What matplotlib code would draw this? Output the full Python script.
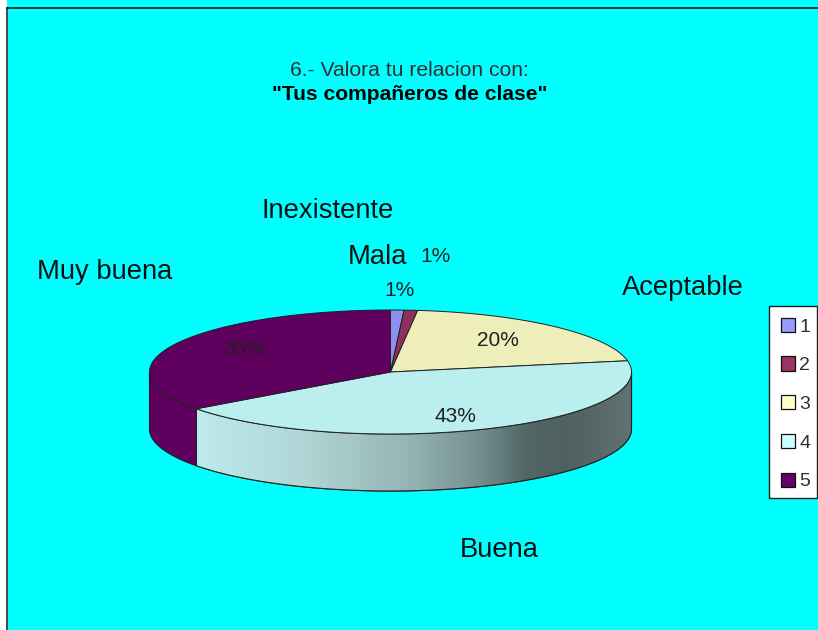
import numpy as np
import matplotlib
matplotlib.use('Agg')
import matplotlib.pyplot as plt
from matplotlib.patches import Polygon, Rectangle, Patch
from matplotlib.colors import LinearSegmentedColormap

# Datos del grafico
categorias = ['1', '2', '3', '4', '5']
valores = [0.9, 0.9, 20.3, 42.8, 35.1]
porcentajes = ['1%', '1%', '20%', '43%', '35%']
nombres = ['Inexistente', 'Mala', 'Aceptable', 'Buena', 'Muy buena']
colores_tapa = ['#8f8fee', '#8e2f5f', '#eeeebb', '#bbeeee', '#5f005f']
colores_leyenda = ['#9999ff', '#993366', '#ffffcc', '#ccffff', '#660066']

plt.rcParams['font.family'] = ['Liberation Sans', 'DejaVu Sans']

# Geometria de la torta en pixeles
cx, cy = 390.5, 372
rx, ry = 241, 62
alto = 57


def borde(t):
    t = np.radians(t)
    return cx + rx * np.sin(t), cy - ry * np.cos(t)


fig = plt.figure(figsize=(8.18, 6.30), dpi=100, facecolor='white')
ax = fig.add_axes([0, 0, 1, 1])
ax.set_xlim(0, 818)
ax.set_ylim(630, 0)
ax.axis('off')

# Fondo
ax.add_patch(Rectangle((7, 0), 811, 630, facecolor='#00ffff', edgecolor='none', zorder=0))
ax.plot([7, 7], [8, 630], color='#3c4c4c', lw=1.4, zorder=1)
ax.plot([7, 818], [7.5, 7.5], color='#101818', lw=1.2, zorder=1)

# Angulos acumulados, en grados desde arriba y en sentido horario
limites = np.cumsum([0] + valores) * 360 / sum(valores)

# Cara lateral: solo se ve la mitad de adelante (90 a 270 grados)
for i in range(len(valores)):
    a = max(limites[i], 90)
    b = min(limites[i + 1], 270)
    if a >= b:
        continue
    t = np.linspace(a, b, 120)
    x, y = borde(t)
    pts = np.vstack([np.c_[x, y], np.c_[x[::-1], y[::-1] + alto]])
    cara = Polygon(pts, closed=True, facecolor=colores_tapa[i], edgecolor='#202020', lw=0.8, zorder=2)
    ax.add_patch(cara)
    if categorias[i] == '4':
        # degradado del lado de la porcion 4
        cmap = LinearSegmentedColormap.from_list('lado', [
            (0.0, '#bdeaea'), (0.25, '#b0d6d6'), (0.5, '#94b2b2'), (0.65, '#748f8f'),
            (0.76, '#526666'), (0.85, '#4f6060'), (1.0, '#607272')])
        img = ax.imshow(np.linspace(0, 1, 256).reshape(1, -1), cmap=cmap, aspect='auto',
                        extent=[x.min(), x.max(), cy + ry + alto + 2, cy - 5], zorder=2.1)
        img.set_clip_path(cara)
        ax.add_patch(Polygon(pts, closed=True, facecolor='none', edgecolor='#202020', lw=0.8, zorder=2.2))
ax.set_xlim(0, 818)
ax.set_ylim(630, 0)

# Tapa
for i in range(len(valores)):
    t = np.linspace(limites[i], limites[i + 1], 120)
    x, y = borde(t)
    pts = np.vstack([[cx, cy], np.c_[x, y]])
    ax.add_patch(Polygon(pts, closed=True, facecolor=colores_tapa[i], edgecolor='#202020', lw=0.7, zorder=3))

# Titulo
ax.text(409, 70, '6.- Valora tu relacion con:', ha='center', va='center', fontsize=15.2, color='#303030', zorder=5)
ax.text(410, 94, '"Tus compañeros de clase"', ha='center', va='center', fontsize=15.1, fontweight='bold', color='black', zorder=5)

# Porcentajes
pos_pct = [(399, 291), (435, 257), (498, 340), (455, 416), (244, 349)]
for (px, py), s in zip(pos_pct, porcentajes):
    ax.text(px, py, s, ha='center', va='center', fontsize=15, color='#202020', zorder=5)

# Nombres de las porciones
pos_nom = [(328, 211), (377, 257), (683, 288), (499, 550), (105, 272)]
for (px, py), s in zip(pos_nom, nombres):
    ax.text(px, py, s, ha='center', va='center', fontsize=19.7, color='#101010', zorder=5)

# Leyenda: el marco va aparte para fijar su alto
ax.add_patch(Rectangle((769, 306), 47.5, 192, facecolor='white', edgecolor='#202020', lw=1.0, zorder=5.5))
manijas = [Patch(facecolor=c, edgecolor='#101010', lw=0.9) for c in colores_leyenda]
ley = ax.legend(manijas, categorias, loc='upper left', bbox_to_anchor=(769 / 818, 1 - 306 / 630),
                borderaxespad=0, fontsize=14, handlelength=0.75, handleheight=0.75,
                handletextpad=0.2, labelspacing=1.07, borderpad=0.6, fancybox=False,
                frameon=False, labelcolor='#303030')
ley.set_zorder(6)

fig.savefig('out.png', dpi=100, facecolor='white')
